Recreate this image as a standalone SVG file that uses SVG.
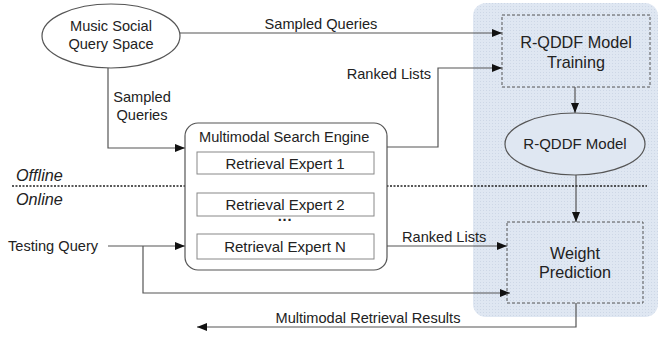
<svg xmlns="http://www.w3.org/2000/svg" width="660" height="337" viewBox="0 0 660 337">
<style>
text{font-family:"Liberation Sans",Arial,sans-serif;font-size:14.6px;fill:#222}
.c{text-anchor:middle}
.big{font-size:16.2px}
.mid{font-size:15px}
.ln{fill:none;stroke:#555;stroke-width:1.2}
.dash{fill:none;stroke:#555;stroke-width:1;stroke-dasharray:3,2}
.box{fill:#fff;stroke:#888;stroke-width:1}
</style>
<defs>
<marker id="ah" viewBox="0 0 10 8" refX="10" refY="4" markerWidth="10" markerHeight="8" markerUnits="userSpaceOnUse" orient="auto">
<path d="M0,0L10,4L0,8z" fill="#111"/>
</marker>
<pattern id="hatch" width="3" height="3" patternUnits="userSpaceOnUse">
<rect width="3" height="3" fill="#dfe7f2"/>
<rect width="1" height="1" fill="#cdd7e6"/>
</pattern>
</defs>
<rect x="473" y="3" width="185" height="314" rx="13" fill="url(#hatch)"/>
<g id="connectors">
<path class="ln" d="M180,33H502" marker-end="url(#ah)"/>
<text class="c" x="321" y="29">Sampled Queries</text>
<path class="ln" d="M108,68V148H185" marker-end="url(#ah)"/>
<text class="c" x="142" y="102">Sampled</text>
<text class="c" x="142" y="120">Queries</text>
<path class="ln" d="M387,147H438V68H502" marker-end="url(#ah)"/>
<text x="431" y="79" text-anchor="end">Ranked Lists</text>
<path class="ln" d="M575,87V113" marker-end="url(#ah)"/>
<path class="ln" d="M576,175V222" marker-end="url(#ah)"/>
<path class="ln" d="M108,246H185" marker-end="url(#ah)"/>
<path class="ln" d="M143,246V293H510" marker-end="url(#ah)"/>
<path class="ln" d="M387,246H507" marker-end="url(#ah)"/>
<text x="402" y="242">Ranked Lists</text>
<path class="ln" d="M576,303V327H197" marker-end="url(#ah)"/>
<text class="c" x="368" y="323">Multimodal Retrieval Results</text>
</g>
<g id="divider">
<line x1="12" y1="186" x2="647" y2="186" stroke="#222" stroke-width="1.3" stroke-dasharray="2,1.5"/>
<text class="big" x="16" y="181" font-style="italic">Offline</text>
<text class="big" x="16" y="205" font-style="italic">Online</text>
</g>
<g id="music-social">
<ellipse cx="111" cy="36" rx="69" ry="32" fill="#fff" stroke="#555" stroke-width="1.2"/>
<text class="c" x="111" y="31">Music Social</text>
<text class="c" x="111" y="49">Query Space</text>
</g>
<g id="search-engine">
<rect x="185" y="123" width="202" height="147" rx="13" fill="#fff" stroke="#555" stroke-width="1.2"/>
<text x="199" y="142">Multimodal Search Engine</text>
<g id="expert1"><rect class="box" x="197" y="152" width="177" height="22"/><text class="c mid" x="285" y="169">Retrieval Expert 1</text></g>
<g id="expert2"><rect class="box" x="197" y="193" width="177" height="23"/><text class="c mid" x="285" y="210">Retrieval Expert 2</text></g>
<text class="c" x="285" y="225" font-weight="bold">···</text>
<g id="expertN"><rect class="box" x="197" y="234" width="177" height="25"/><text class="c mid" x="285" y="252">Retrieval Expert N</text></g>
</g>
<g id="testing-query">
<text x="8" y="251">Testing Query</text>
</g>
<g id="training">
<rect class="dash" x="502" y="15" width="148" height="72"/>
<text class="c big" x="576" y="48">R-QDDF Model</text>
<text class="c big" x="576" y="68">Training</text>
</g>
<g id="model">
<ellipse cx="575" cy="144" rx="70" ry="31" fill="#dfe7f2" stroke="#555" stroke-width="1.2"/>
<text class="c mid" x="575" y="149">R-QDDF Model</text>
</g>
<g id="weight">
<rect class="dash" x="507" y="222" width="136" height="81"/>
<text class="c big" x="575" y="259">Weight</text>
<text class="c big" x="575" y="278">Prediction</text>
</g>
</svg>
